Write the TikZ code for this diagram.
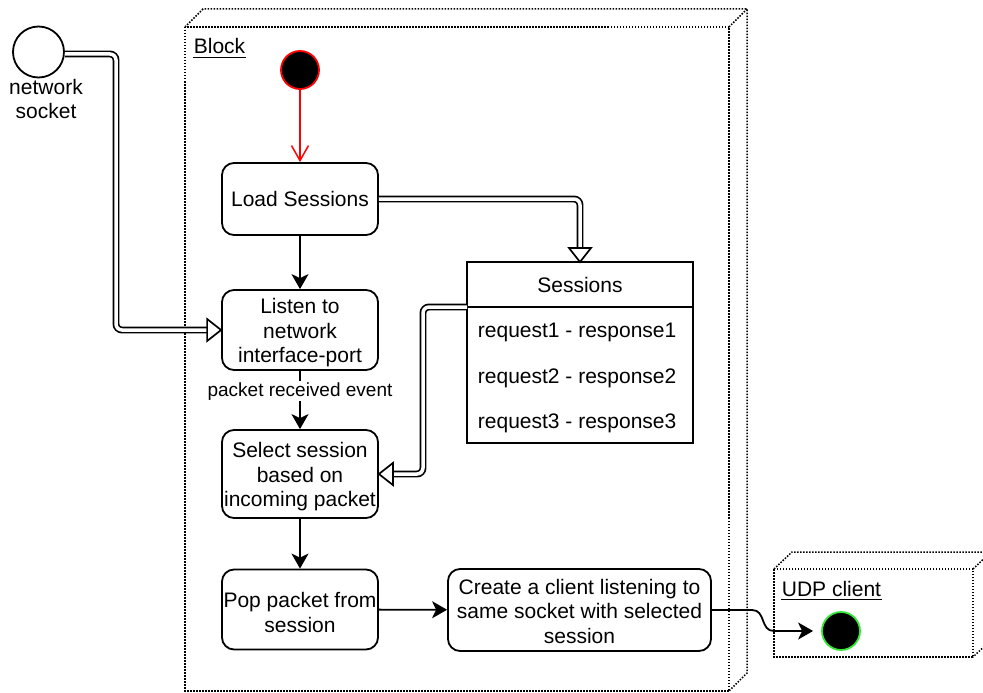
\documentclass[tikz,border=0pt]{standalone}
\usepackage{fontspec}
\setmainfont{Liberation Sans}
\usetikzlibrary{arrows.meta}
\definecolor{startred}{RGB}{255,0,0}
\definecolor{endgreen}{RGB}{51,230,51}
% extra headroom on the first line of a multi-line box label
\newcommand{\toproom}{\rule{0pt}{21pt}}

\begin{document}
\begin{tikzpicture}[x=1pt, y=-1pt,
  font=\fontsize{21}{24.5}\selectfont,
  line width=1.8pt,
  stepbox/.style={draw, rounded corners=12pt, align=center, inner sep=0pt},
  dotbox/.style={line width=1.5pt, dash pattern=on 1.5pt off 1.5pt},
  flow/.style={-{Stealth[length=15pt, width=17pt, inset=4pt]}},
  dbl/.style={draw, line width=1.7pt, double=white, double distance=3.5pt, rounded corners=6pt},
  head/.style={draw, line width=1.7pt, fill=white, line join=miter},
  dot/.style={circle, draw, fill=black, minimum size=38pt, inner sep=0pt},
  lbl/.style={fill=white, inner sep=1pt, font=\fontsize{19}{22}\selectfont},
  cell/.style={draw, minimum width=226pt, inner sep=0pt, outer sep=0pt}
]
\useasboundingbox (0,0) rectangle (983,693);

% ---- outer 3D containers ----
\draw[dotbox] (185,27) rectangle (729,691);
\draw[dotbox] (185,27) -- (203,9) -- (747,9) -- (747,673) -- (729,691);
\draw[dotbox] (729,27) -- (747,9);
\node[anchor=base west, inner sep=0pt] (blocklbl) at (193,54) {Block};
\draw[line width=1.8pt] ([yshift=-3.5pt]blocklbl.base west) -- ([yshift=-3.5pt]blocklbl.base east);

\draw[dotbox] (774,569) rectangle (973,657);
\draw[dotbox] (774,569) -- (792,552) -- (991,552) -- (991,640) -- (973,657);
\draw[dotbox] (973,569) -- (991,552);
\node[anchor=base west, inner sep=0pt] (udplbl) at (781,596) {UDP client};
\draw[line width=1.8pt] ([yshift=-3.5pt]udplbl.base west) -- ([yshift=-3.5pt]udplbl.base east);

% ---- socket ----
\node[circle, draw, minimum size=51pt, inner sep=0pt] (sock) at (38.5,52) {};
\node[align=center, inner sep=0pt] (socklbl) at (46,99) {network\\socket};

% ---- activity nodes ----
\node[dot, draw=startred] (start) at (300,70) {};
\node[stepbox, minimum width=156pt, minimum height=72pt] (load) at (300,199) {Load Sessions};
\node[stepbox, minimum width=156pt, minimum height=80pt] (listen) at (300,330) {\toproom Listen to\\network\\interface-port};
\node[stepbox, minimum width=156pt, minimum height=88pt] (select) at (300,474) {\toproom Select session\\based on\\incoming packet};
\node[stepbox, minimum width=156pt, minimum height=80pt] (pop) at (300,609.5) {\toproom Pop packet from\\session};
\node[stepbox, minimum width=263pt, minimum height=82pt] (create) at (579.5,610) {\rule{0pt}{18pt}Create a client listening to\\same socket with selected\\session};
\node[dot, draw=endgreen] (endc) at (841,631) {};

% ---- sessions table ----
\node[cell, minimum height=45pt] (sesshead) at (580,284.5) {Sessions};
\node[cell, minimum height=136pt, anchor=north] (sessbody) at (sesshead.south) {};
\node[anchor=west, inner sep=0pt] (r1) at (477,332) {request1 - response1};
\node[anchor=west, inner sep=0pt] (r2) at (477,378) {request2 - response2};
\node[anchor=west, inner sep=0pt] (r3) at (477,423) {request3 - response3};

% ---- control flow ----
\draw[startred, line width=1.5pt, -{Straight Barb[length=15pt, width=17pt]}] (start) -- (load);
\draw[flow] (load) -- (listen);
\draw[flow] (listen) -- node[lbl, pos=0.35] {packet received event} (select);
\draw[flow] (select) -- (pop);
\draw[flow] (pop) -- (create);
\coordinate (bend) at (752,610);
\draw[flow, shorten >=8pt] (create.east) -- (bend) .. controls (766,610) and (760,631) .. (774,631) -- (endc.west);

% ---- data links (double lines, hollow heads) ----
\draw[dbl] ([yshift=-2pt]sock.east) -- (116,54) -- (116,330) -- ([xshift=-14pt]listen.west);
\draw[head] (listen.west) -- ++(-14,-11) -- ++(0,22) -- cycle;

\draw[dbl] (load.east) -| ([yshift=14pt]sesshead.north);
\draw[head] (sesshead.north) -- ++(-11,-14) -- ++(22,0) -- cycle;

\draw[dbl] (sesshead.south west) -- (423,307) -- (423,474) -- ([xshift=14pt]select.east);
\draw[head] (select.east) -- ++(14,-11) -- ++(0,22) -- cycle;
\end{tikzpicture}
\end{document}
